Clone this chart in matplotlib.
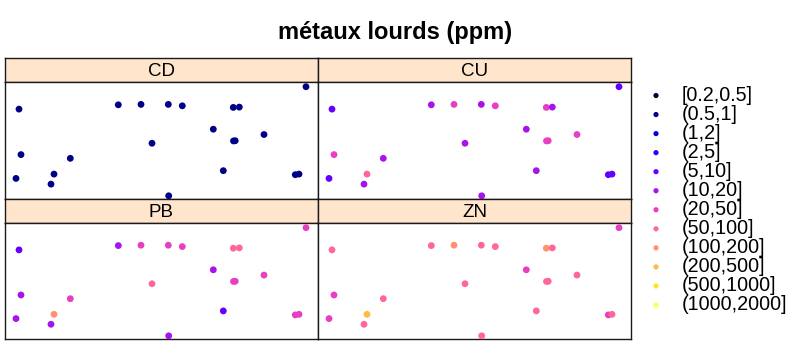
import matplotlib.pyplot as plt
import numpy as np

plt.rcParams["font.family"] = ["Liberation Sans", "DejaVu Sans"]

# class labels and colours (bpy.colors style ramp)
classes = ["[0.2,0.5]", "(0.5,1]", "(1,2]", "(2,5]", "(5,10]", "(10,20]",
           "(20,50]", "(50,100]", "(100,200]", "(200,500]", "(500,1000]", "(1000,2000]"]
classColors = ["#000033", "#000087", "#0000DA", "#2400FF", "#6500FF", "#A714EB",
               "#E83EC1", "#FF6798", "#FF916E", "#FFBB44", "#FFE51A", "#FFFF60"]

# sample locations (panel units)
xLoc = [301, 14, 113.3, 136, 163.3, 177.3, 228.3, 234.3, 208.3, 259, 147,
        228.5, 230.2, 16, 65.3, 49, 11, 46, 218.3, 290.3, 294, 163.7]
yLoc = [111.8, 89.5, 93.8, 94.2, 94.2, 92.8, 91.2, 91.5, 69.5, 64.2, 55.5,
        57.8, 58.0, 44.2, 40.5, 24.8, 20.5, 14.8, 28.2, 24.2, 24.8, 3.2]

# class index of each sample, per metal
cd = [1] * 22
cu = [4, 4, 5, 6, 5, 6, 6, 5, 5, 6, 5, 6, 6, 6, 5, 7, 4, 5, 5, 4, 4, 5]
pb = [6, 4, 5, 6, 6, 6, 7, 7, 5, 6, 7, 6, 6, 5, 6, 8, 5, 5, 4, 6, 6, 5]
zn = [6, 7, 7, 8, 7, 7, 8, 7, 6, 7, 7, 7, 7, 6, 7, 9, 6, 7, 7, 6, 7, 7]

metals = ["CD", "CU", "PB", "ZN"]
values = [cd, cu, pb, zn]

W, H = 800, 363


def pxAxes(fig, left, top, width, height):
    return fig.add_axes([left / W, 1 - (top + height) / H, width / W, height / H])


fig = plt.figure(figsize=(W / 100, H / 100), dpi=100)

colX = [5, 318]
rowStrip = [58, 199]
stripH = 24
panelW = 313
panelH = [117, 116]

for k, (name, cls) in enumerate(zip(metals, values)):
    r, c = divmod(k, 2)
    left = colX[c]
    top = rowStrip[r]

    strip = pxAxes(fig, left, top, panelW, stripH)
    strip.set_facecolor("#FFE5CC")
    strip.set_xticks([])
    strip.set_yticks([])
    strip.text(0.5, 0.45, name, ha="center", va="center", fontsize=13.5,
               transform=strip.transAxes)

    ax = pxAxes(fig, left, top + stripH, panelW, panelH[r])
    ax.scatter(xLoc, yLoc, s=24, c=[classColors[i] for i in cls],
               edgecolors="none", zorder=3, clip_on=False)
    ax.set_xlim(0, 313)
    ax.set_ylim(0, 116.5)
    ax.set_xticks([])
    ax.set_yticks([])

    for a in (strip, ax):
        for sp in a.spines.values():
            sp.set_linewidth(1.0)
            sp.set_color("#1a1a1a")

# legend
leg = pxAxes(fig, 640, 85, 160, 230)
leg.set_xlim(0, 160)
leg.set_ylim(230, 0)
leg.axis("off")
ys = np.linspace(10.5, 220, len(classes))
leg.scatter([16] * len(classes), ys, s=14, c=classColors, edgecolors="none")
for y, lab in zip(ys, classes):
    leg.text(42, y, lab, ha="left", va="center", fontsize=14.2)

fig.text(395 / W, 1 - 33 / H, "métaux lourds (ppm)", ha="center", va="center",
         fontsize=17, fontweight="bold")

plt.savefig("out.png", dpi=100)
